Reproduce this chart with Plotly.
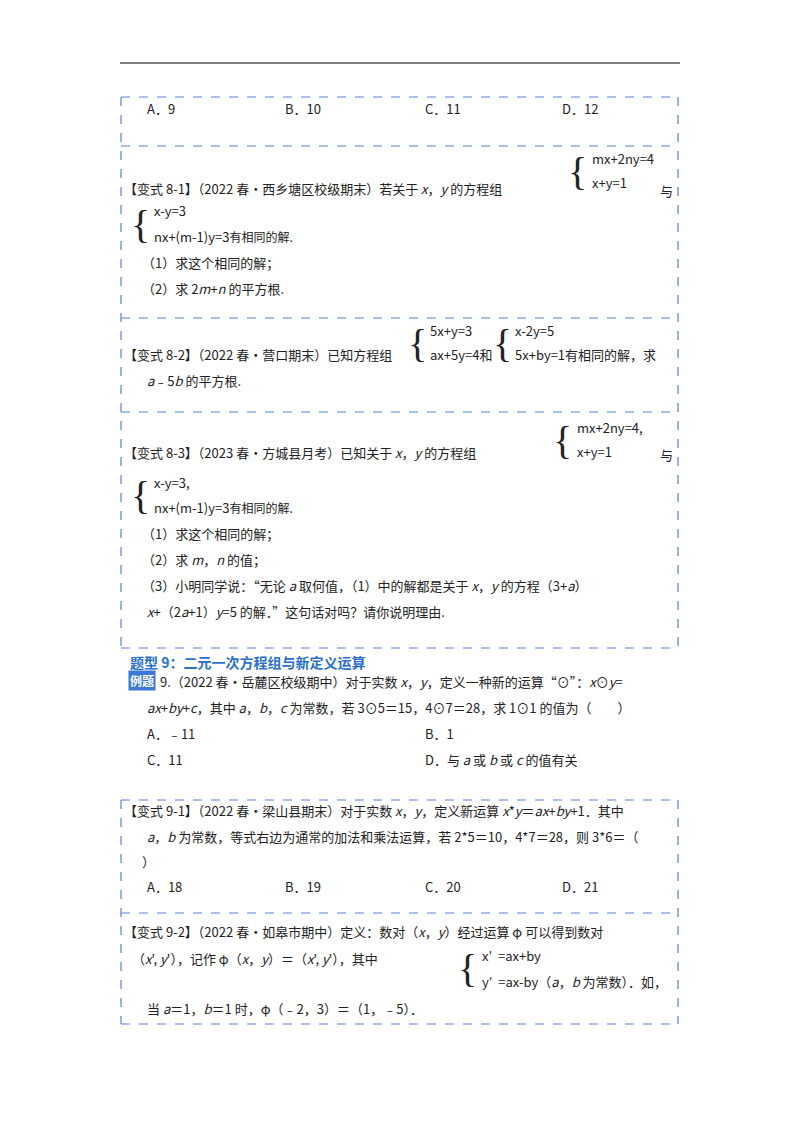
import plotly.graph_objects as go

FONT = "Noto Sans CJK SC"
BLUE = "#5b7fd6"

# text content of the page
lines = [
    ("A．9", 145, 108), ("B．10", 283, 108), ("C．11", 423, 108), ("D．12", 560, 108),
    ("【变式 8-1】（2022 春•西乡塘区校级期末）若关于 <i>x</i>，<i>y</i> 的方程组", 122, 188),
    ("与", 658, 190),
    ("nx+(m-1)y=3<span style='font-size:12px'>有相同的解.</span>", 152, 236),
    ("x-y=3", 152, 210),
    ("（1）求这个相同的解；", 140, 262),
    ("（2）求 2<i>m</i>+<i>n</i> 的平方根.", 140, 288),
    ("【变式 8-2】（2022 春•营口期末）已知方程组", 122, 354),
    ("5x+y=3", 428, 330), ("ax+5y=4和", 428, 354),
    ("x-2y=5", 513, 330), ("5x+by=1有相同的解，求", 513, 354),
    ("<i>a</i>﹣5<i>b</i> 的平方根.", 145, 380),
    ("【变式 8-3】（2023 春•方城县月考）已知关于 <i>x</i>，<i>y</i> 的方程组", 122, 452),
    ("与", 658, 454),
    ("x-y=3,", 152, 482),
    ("nx+(m-1)y=3<span style='font-size:12px'>有相同的解.</span>", 152, 507),
    ("（1）求这个相同的解；", 140, 533),
    ("（2）求 <i>m</i>，<i>n</i> 的值；", 140, 559),
    ("（3）小明同学说：“无论 <i>a</i> 取何值，（1）中的解都是关于 <i>x</i>，<i>y</i> 的方程（3+<i>a</i>）", 140, 585),
    ("<i>x</i>+（2<i>a</i>+1）<i>y</i>=5 的解．”这句话对吗？请你说明理由.", 145, 611),
    ("9.（2022 春•岳麓区校级期中）对于实数 <i>x</i>，<i>y</i>，定义一种新的运算“⊙”：<i>x</i>⊙<i>y</i>=", 158, 681),
    ("<i>ax</i>+<i>by</i>+<i>c</i>，其中 <i>a</i>，<i>b</i>，<i>c</i> 为常数，若 3⊙5＝15，4⊙7＝28，求 1⊙1 的值为（　　）", 145, 707),
    ("A．﹣11", 145, 733), ("B．1", 423, 733),
    ("C．11", 145, 759), ("D．与 <i>a</i> 或 <i>b</i> 或 <i>c</i> 的值有关", 423, 759),
    ("【变式 9-1】（2022 春•梁山县期末）对于实数 <i>x</i>，<i>y</i>，定义新运算 <i>x</i>*<i>y</i>＝<i>ax</i>+<i>by</i>+1．其中", 122, 810),
    ("<i>a</i>，<i>b</i> 为常数，等式右边为通常的加法和乘法运算，若 2*5＝10，4*7＝28，则 3*6＝（", 145, 836),
    ("）", 140, 861),
    ("A．18", 145, 886), ("B．19", 283, 886), ("C．20", 423, 886), ("D．21", 560, 886),
    ("【变式 9-2】（2022 春•如皋市期中）定义：数对（<i>x</i>，<i>y</i>）经过运算 φ 可以得到数对", 122, 931),
    ("（<i>x</i>', <i>y</i>'），记作 φ（<i>x</i>，<i>y</i>）＝（<i>x</i>', <i>y</i>'），其中", 130, 958),
    ("x′  =ax+by", 480, 955), ("y′  =ax-by（<i>a</i>，<i>b</i> 为常数）．如，", 480, 981),
    ("当 <i>a</i>＝1，<i>b</i>＝1 时，φ（﹣2，3）＝（1，﹣5）．", 145, 1008),
    ("mx+2ny=4", 590, 158), ("x+y=1", 590, 182),
    ("mx+2ny=4,", 575, 427), ("x+y=1", 575, 451),
]
braces = [(580, 171), (143, 224), (420, 343), (505, 343), (565, 440), (143, 495), (470, 968)]
box_rows = [97, 146, 318, 412, 648]
box2_rows = [800, 913, 1024]

fig = go.Figure()
fig.add_trace(go.Scatter(x=[400], y=[400], mode="markers", marker=dict(opacity=0), showlegend=False))

for t, x, y in lines:
    fig.add_annotation(x=x, y=y, text=t, showarrow=False, xanchor="left", yanchor="middle",
                       font=dict(family=FONT, size=13, color="#222"))
for x, y in braces:
    fig.add_annotation(x=x + 9, y=y, text="{", showarrow=False, xanchor="right", yanchor="middle",
                       font=dict(family="Liberation Serif", size=40, color="#222"))

fig.add_annotation(x=128, y=662, text="<b>题型 9：二元一次方程组与新定义运算</b>", showarrow=False,
                   xanchor="left", yanchor="middle", font=dict(family=FONT, size=14, color="#2a6fc9"))
fig.add_annotation(x=128, y=680, text="<b>例题</b>", showarrow=False, xanchor="left", yanchor="middle",
                   bgcolor="#3b78d8", font=dict(family=FONT, size=12, color="white"))

fig.add_shape(type="line", x0=120, x1=680, y0=63, y1=63, line=dict(color="black", width=1))
dash = dict(color=BLUE, width=1.2, dash="dash")
for rows in (box_rows, box2_rows):
    for y in rows:
        fig.add_shape(type="line", x0=121, x1=678, y0=y, y1=y, line=dash)
    fig.add_shape(type="line", x0=121, x1=121, y0=rows[0], y1=rows[-1], line=dash)
    fig.add_shape(type="line", x0=678, x1=678, y0=rows[0], y1=rows[-1], line=dash)

# page body has an 8px margin, so offset the ranges to keep page pixels = data units
fig.update_xaxes(range=[8, 792], visible=False)
fig.update_yaxes(range=[1124, 8], visible=False)
fig.update_layout(width=784, height=1116, margin=dict(l=0, r=0, t=0, b=0),
                  plot_bgcolor="white", paper_bgcolor="white")
fig.write_html("out.html")
